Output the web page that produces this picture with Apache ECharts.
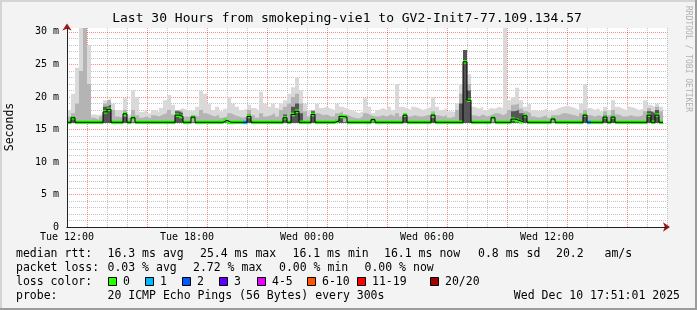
<!DOCTYPE html>
<html><head><meta charset="utf-8">
<script src="https://cdn.jsdelivr.net/npm/echarts@6/dist/echarts.min.js"></script>
<style>html,body{margin:0;padding:0;background:#f3f3f3}#c{width:697px;height:310px}</style>
</head><body><div id="c"></div>
<script>
// ---- data (hours since Tue 00:00; bins of 12 minutes starting Tue 12:00) ----
const T0 = 12;
const STEP_H = 0.2;
const medianMs = [
16.1,16.8,16.1,16.1,16.1,16.1,16.1,16.1,16.1,17.7,
18.1,16.1,16.1,16.1,17.4,16.1,16.8,16.1,16.1,16.1,
16.1,16.1,16.1,16.1,16.1,16.1,16.1,17.2,17.0,16.1,
16.1,16.9,16.1,16.1,16.1,16.1,16.1,16.1,16.1,16.4,
16.1,16.1,16.1,16.1,16.1,17.0,16.1,16.1,16.1,16.1,
16.1,16.1,16.1,16.1,16.8,16.1,17.3,17.8,16.1,16.1,
16.1,17.3,16.1,16.1,16.1,16.1,16.1,16.3,17.0,16.9,
16.1,16.1,16.1,16.1,16.1,16.1,16.5,16.1,16.1,16.1,
16.1,16.1,16.1,16.1,17.2,16.1,16.1,16.1,16.1,16.1,
16.1,17.2,16.1,16.1,16.1,16.1,16.1,16.1,16.1,25.4,
19.5,16.1,16.1,16.1,16.1,16.1,16.8,16.1,16.1,16.1,
16.1,16.6,16.4,16.2,17.1,16.1,16.1,16.1,16.1,16.1,
16.1,16.6,16.1,16.1,16.1,16.1,16.1,16.1,16.1,17.2,
16.1,16.1,16.1,16.1,16.9,16.1,16.9,16.1,16.1,16.1,
16.1,16.1,16.1,16.1,16.1,17.2,16.1,17.2,16.1];
const smokeMaxMs = [
18,20.5,24.5,30.6,30.6,28,17.3,17.2,17.5,19.5,
19.8,19,18,18,19.8,17.3,21,20,17.7,18,
17.5,18,17.7,18.3,19.5,20.3,18.8,18,18.3,18,
17.8,18,18.5,21,20.5,19,18,18.5,17.8,18.2,
20,19,18.5,18,18.2,18.8,18.3,18,20.8,19,
18.5,19,18.3,19,19.5,20.5,21.5,23,21,19,
18,17.5,19,18.3,18.5,18.2,18,19,18.5,18.2,
18,17.8,17.5,17.8,19.8,18.5,17.5,18,18.3,18,
18.5,18,22,18.5,18.3,18,18.5,18.3,18,18.2,
18.5,20,18.5,18,18.3,17.8,17.7,19,22,27.2,
23.5,18.5,18.2,18.5,18,18.3,18.2,18.5,18.3,30.6,
19.5,20,21.4,19.5,18.5,18.9,18,17.8,18,18.2,
17.8,18,18.3,18.5,18.7,18.5,18.3,18,19,22,
18.3,18,18.3,17.8,18.5,18,19.5,18.5,18.2,18,
18.5,18.3,18,18.2,19.5,18.8,18.5,19,18.5];
const smokeMidMs = [
17,17.5,19,24,30.6,22,16.8,16.5,17,19,
19.5,18,17,16.8,18,16.8,18,17.2,16.8,17,
16.7,17.2,17,17.3,17.5,18,17.3,18,17.8,17,
17,17.2,17,18,17.5,17.2,17,17.3,16.8,17,
17.5,17.2,17,16.8,17,18,17.2,16.8,17.5,17,
17.2,17.5,17,18,18.5,19,20,20.5,19,17.8,
17,18,17.5,17.2,17.3,17,17,17.5,17.8,17.3,
17,16.8,16.7,17,17.5,17.2,17,17,17.2,17,
17.3,17,17.5,17,17.5,17,17.2,17,17,17.2,
17.3,17.8,17.2,17,17.2,16.8,17,18,20.5,26.5,
22,17.2,17,17.3,17,17.2,17.5,17.5,17.2,17.5,
18,18.8,19,18.2,17.8,17.5,17,16.8,17,17.2,
16.8,17.2,17.2,17.5,17.5,17.3,17.2,17,17.5,18,
17.2,17,17.2,17,17.8,17.2,18,17.3,17,17,
17.2,17,17,17.2,17.8,18.3,17.8,18.5,17.8];
const smokeDarkMs = [
16.1,17.0,16.1,16.1,16.1,16.1,16.1,16.1,16.1,18.5,
18.8,16.1,16.1,16.1,17.0,16.1,16.1,16.1,16.1,16.1,
16.1,16.1,16.1,16.1,16.1,16.1,16.1,17.8,17.5,16.1,
16.1,16.1,16.1,16.1,16.1,16.1,16.1,16.1,16.1,16.1,
16.1,16.1,16.1,16.1,16.1,17.3,16.1,16.1,16.1,16.1,
16.1,16.1,16.1,16.1,17.3,16.1,18.5,19.0,17.5,16.1,
16.1,17.8,16.1,16.1,16.1,16.1,16.1,16.1,17.2,16.1,
16.1,16.1,16.1,16.1,16.1,16.1,16.1,16.1,16.1,16.1,
16.1,16.1,16.1,16.1,17.0,16.1,16.1,16.1,16.1,16.1,
16.1,16.8,16.1,16.1,16.1,16.1,16.1,16.1,19.0,27.2,
21.0,16.1,16.1,16.1,16.1,16.1,16.1,16.1,16.1,16.1,
16.1,17.8,18.0,17.5,17.3,16.1,16.1,16.1,16.1,16.1,
16.1,16.1,16.1,16.1,16.1,16.1,16.1,16.1,16.1,17.0,
16.1,16.1,16.1,16.1,17.2,16.1,17.0,16.1,16.1,16.1,
16.1,16.1,16.1,16.1,16.1,17.8,17.5,18.0,16.1];
const lossPings = [
0,0,0,0,0,0,0,0,0,0, 0,0,0,0,0,0,0,0,0,0,
0,0,0,0,0,0,0,0,0,0, 0,0,0,0,0,0,0,0,0,0,
0,0,0,0,1,0,0,0,0,0, 0,0,0,0,0,0,0,0,0,0,
0,0,0,0,0,0,0,0,0,0, 0,0,0,0,0,0,0,0,0,0,
0,0,0,0,0,0,0,0,0,0, 0,0,0,0,0,0,0,0,0,0,
0,0,0,0,0,0,0,0,0,0, 0,0,0,0,0,0,0,0,0,0,
0,0,0,0,0,0,0,0,0,0, 1,0,0,0,0,0,0,0,0,0,
0,0,0,0,0,0,0,0,0];
const SMOKE_FLOOR = 16.0;
const Y_MAX = 30.6;
const xTickHours = [12, 18, 24, 30, 36];
const xTickLabels = ['Tue 12:00', 'Tue 18:00', 'Wed 00:00', 'Wed 06:00', 'Wed 12:00'];
const yTickValues = [0, 5, 10, 15, 20, 25, 30];
const yTickLabels = ['0', '5 m', '10 m', '15 m', '20 m', '25 m', '30 m'];
const lossLabels = ['0', '1', '2', '3', '4-5', '6-10', '11-19', '20/20'];
const lossColors = ['#26ff00', '#00b8ff', '#0059ff', '#5e00ff', '#e600ff', '#ff5500', '#ff0000', '#a10000'];
const medianStats = ['16.3 ms avg', '25.4 ms max', '16.1 ms min', '16.1 ms now', '0.8 ms sd', '20.2   am/s'];
const lossStats = ['0.03 % avg', '2.72 % max', '0.00 % min', '0.00 % now'];
const titleText = 'Last 30 Hours from smokeping-vie1 to GV2-Init7-77.109.134.57';
const probeText = '20 ICMP Echo Pings (56 Bytes) every 300s';
const dateText = 'Wed Dec 10 17:51:01 2025';

// ---- layout / style ----
const MONO = '"DejaVu Sans Mono", monospace';
const RED_GRID = 'rgba(255,0,0,0.45)';
const GREY_GRID = 'rgba(140,140,140,0.5)';
const medX = [107.5, 200, 292.5, 384, 478, 556];
const lossX = [107.5, 193, 279, 364.5];
const boxX = [108, 145, 182, 219, 257, 307, 357, 430];
const rowY = [254, 268, 282, 296];
const BAND = 0.28;

function toPts(arr) {
  const pts = arr.map((v, i) => [T0 + i * STEP_H, v]);
  pts.push([T0 + arr.length * STEP_H, arr[arr.length - 1]]);
  return pts;
}
const bandData = medianMs.map((v, i) => [T0 + i * STEP_H, T0 + (i + 1) * STEP_H, v, lossPings[i]]);

const xColors = [], yColors = [];
for (let h = 12; h <= 42; h++) xColors.push(h % 3 === 0 ? RED_GRID : GREY_GRID);
for (let v = 0; v <= 30; v++) yColors.push(v % 5 === 0 ? RED_GRID : GREY_GRID);

function smoke(data, color) {
  return { type: 'line', step: 'end', data: toPts(data), showSymbol: false, symbol: 'none',
    lineStyle: { width: 0, opacity: 0 }, areaStyle: { color: color, opacity: 1, origin: SMOKE_FLOOR },
    silent: true };
}

const txt = (x, y, text, extra) => Object.assign({ type: 'text', x: x, y: y, silent: true,
  style: Object.assign({ text: text, font: '11.5px ' + MONO, fill: '#000',
    align: 'left', verticalAlign: 'middle', textAlign: 'left', textVerticalAlign: 'middle' }, (extra || {}).style || {}) },
  extra ? { rotation: extra.rotation || 0 } : {});

const graphic = [
  { type: 'rect', shape: { x: 0, y: 0, width: 697, height: 2 }, style: { fill: '#d4d4d4' }, silent: true },
  { type: 'rect', shape: { x: 0, y: 0, width: 2, height: 310 }, style: { fill: '#d4d4d4' }, silent: true },
  { type: 'rect', shape: { x: 0, y: 308, width: 697, height: 2 }, style: { fill: '#9c9c9c' }, silent: true },
  { type: 'rect', shape: { x: 695, y: 0, width: 2, height: 310 }, style: { fill: '#9c9c9c' }, silent: true },
  txt(347, 19, titleText, { style: { font: '13px ' + MONO, align: 'center', textAlign: 'center' } }),
  txt(10, 127, 'Seconds', { rotation: Math.PI / 2, style: { align: 'center', textAlign: 'center' } }),
  txt(688, 59, 'RRDTOOL / TOBI OETIKER', { rotation: -Math.PI / 2, style: { font: '8px ' + MONO, fill: '#b0b0b0', align: 'center', textAlign: 'center' } }),
  txt(16, rowY[0], 'median rtt:'),
  txt(16, rowY[1], 'packet loss:'),
  txt(16, rowY[2], 'loss color:'),
  txt(16, rowY[3], 'probe:'),
  txt(107.5, rowY[3], probeText),
  txt(680, rowY[3], dateText, { style: { align: 'right', textAlign: 'right' } })
];
medianStats.forEach((s, i) => graphic.push(txt(medX[i], rowY[0], s)));
lossStats.forEach((s, i) => graphic.push(txt(lossX[i], rowY[1], s)));
lossLabels.forEach((s, i) => {
  graphic.push({ type: 'rect', silent: true, shape: { x: boxX[i] + 0.5, y: rowY[2] - 4.5, width: 8, height: 8 },
    style: { fill: lossColors[i], stroke: '#000', lineWidth: 1 } });
  graphic.push(txt(boxX[i] + 15, rowY[2], s));
});

const chart = echarts.init(document.getElementById('c'), null, { renderer: 'canvas' });
chart.setOption({
  backgroundColor: '#f3f3f3',
  animation: false,
  grid: { left: 67, right: 30, top: 28, bottom: 83, show: true, backgroundColor: '#ffffff', borderWidth: 0 },
  xAxis: [
    { type: 'value', min: 12, max: 42, interval: 1, position: 'bottom', z: 0,
      axisLine: { show: false }, axisTick: { show: false },
      axisLabel: { margin: 5, fontFamily: MONO, fontSize: 10, color: '#000',
        formatter: v => { const k = xTickHours.indexOf(Math.round(v)); return k >= 0 ? xTickLabels[k] : ''; } },
      splitLine: { show: true, showMinLine: false, lineStyle: { color: xColors, type: [1, 1], width: 1 } } },
    { type: 'value', min: 12, max: 42, position: 'bottom', z: 6,
      axisLine: { lineStyle: { color: '#222', width: 1 } },
      axisTick: { show: false }, axisLabel: { show: false }, splitLine: { show: false } },
    { type: 'value', min: 12, max: 42, position: 'bottom', z: 5,
      axisLine: { lineStyle: { color: '#a01818' }, symbol: ['none', 'arrow'], symbolSize: [7, 7], symbolOffset: [0, 3] },
      axisTick: { show: false }, axisLabel: { show: false }, splitLine: { show: false } }
  ],
  yAxis: [
    { type: 'value', min: 0, max: Y_MAX, interval: 1, position: 'left', z: 0,
      axisLine: { show: false }, axisTick: { show: false },
      axisLabel: { margin: 8, fontFamily: MONO, fontSize: 10, color: '#000',
        formatter: v => { const k = yTickValues.indexOf(Math.round(v * 10) / 10); return k >= 0 ? yTickLabels[k] : ''; } },
      splitLine: { show: true, showMaxLine: false, lineStyle: { color: yColors, type: [1, 1], width: 1 } } },
    { type: 'value', min: 0, max: Y_MAX, position: 'left', z: 6,
      axisLine: { show: true, lineStyle: { color: '#222', width: 1 } },
      axisTick: { show: false }, axisLabel: { show: false }, splitLine: { show: false } },
    { type: 'value', min: 0, max: Y_MAX, position: 'left', z: 5,
      axisLine: { show: true, lineStyle: { color: '#a01818' }, symbol: ['none', 'arrow'], symbolSize: [7, 7], symbolOffset: [0, 4.5] },
      axisTick: { show: false }, axisLabel: { show: false }, splitLine: { show: false } }
  ],
  series: [
    smoke(smokeMaxMs, '#d9d9d9'),
    smoke(smokeMidMs, '#b4b4b4'),
    smoke(smokeDarkMs, '#555555'),
    { type: 'line', step: 'end', data: toPts(medianMs), showSymbol: false, symbol: 'none',
      lineStyle: { color: '#000', width: 1 }, silent: true },
    { type: 'custom', data: bandData, encode: { x: [0, 1], y: 2 }, z: 3,
      renderItem: function (params, api) {
        const p0 = api.coord([api.value(0), api.value(2) + BAND]);
        const p1 = api.coord([api.value(1), api.value(2) - BAND]);
        return { type: 'rect', shape: { x: p0[0], y: p0[1], width: p1[0] - p0[0], height: p1[1] - p0[1] },
          style: { fill: lossColors[api.value(3)] || lossColors[0] } };
      } }
  ],
  graphic: graphic
});
</script></body></html>
